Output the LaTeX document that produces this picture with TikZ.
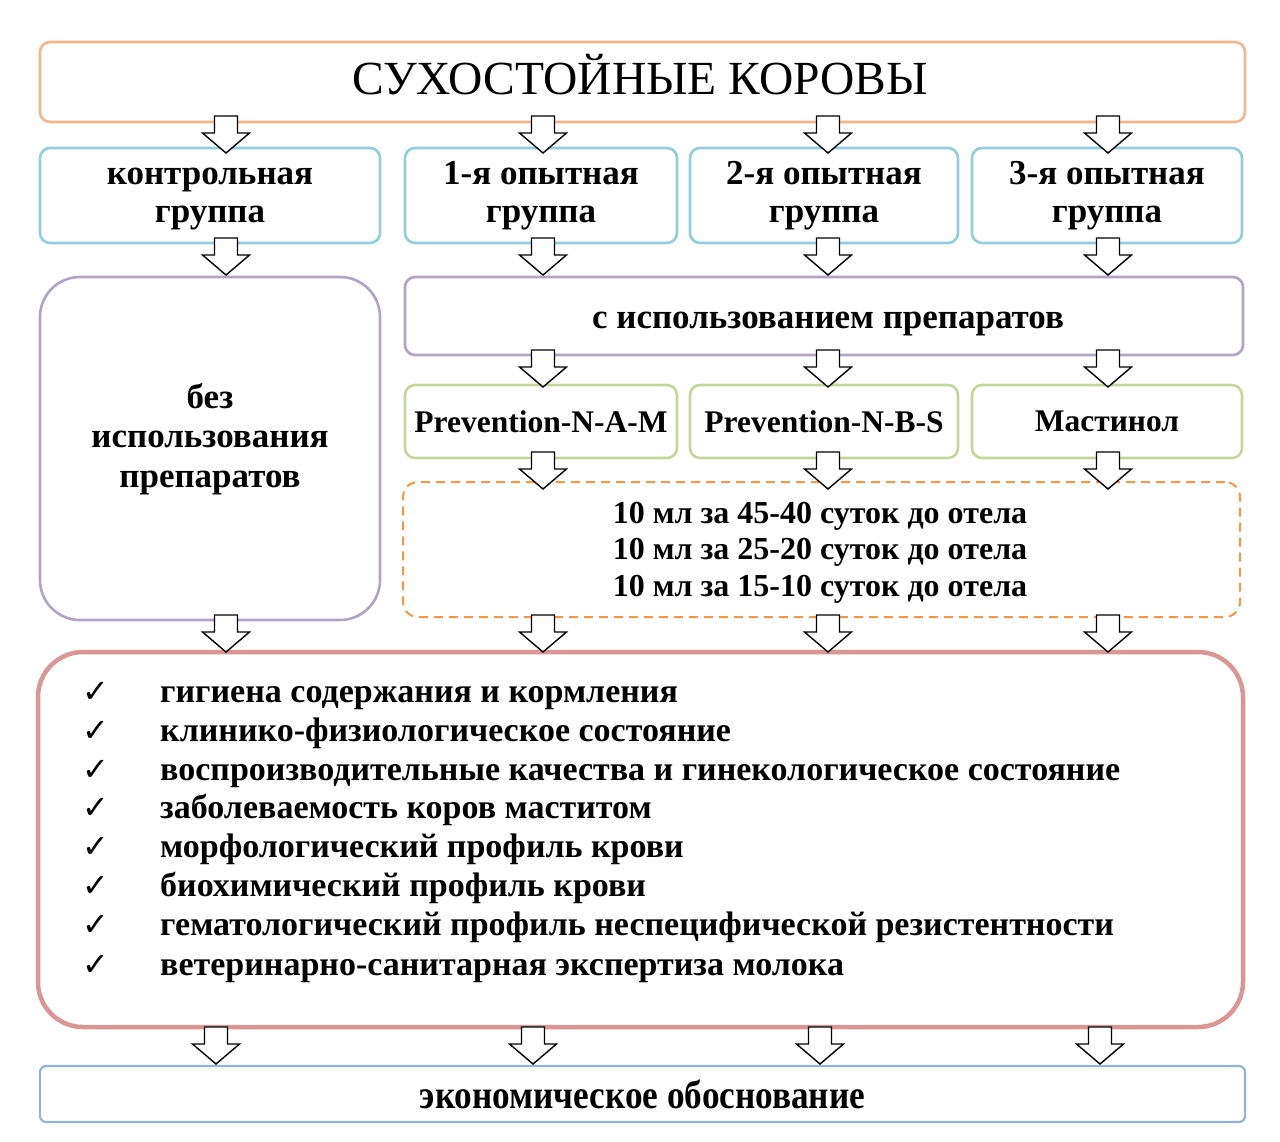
\documentclass[tikz,border=0pt]{standalone}
\usepackage{fontspec}
\usepackage{graphicx}
\setmainfont{Liberation Serif}
\newfontfamily\djv{DejaVu Sans}
\definecolor{cOrange}{HTML}{F5B58B}
\definecolor{cBlue}{HTML}{93CDDD}
\definecolor{cLav}{HTML}{B3A2C7}
\definecolor{cGreen}{HTML}{C3D69B}
\definecolor{cDash}{HTML}{F79646}
\definecolor{cRed}{HTML}{D99694}
\definecolor{cBot}{HTML}{95B3D7}
\tikzset{
  boxbase/.style={draw, line width=2.6pt, fill=white, inner sep=0pt, align=center},
  lbl/.style={font=\bfseries\fontsize{35}{38}\selectfont},
  lblb/.style={font=\bfseries\fontsize{35}{39.5}\selectfont},
  drug/.style={font=\bfseries\fontsize{31.5}{36}\selectfont},
  dosel/.style={anchor=mid, inner sep=0pt, font=\bfseries\fontsize{32}{36}\selectfont},
  listitem/.style={anchor=mid west, inner sep=0pt, font=\bfseries\fontsize{34}{39}\selectfont},
  tick/.style={anchor=mid, inner sep=0pt, font=\djv\fontsize{32}{32}\selectfont},
  barrow/.pic={\draw[fill=white, line width=1.4pt, line join=miter]
     (-11.5,0) -- (11.5,0) -- (11.5,17) -- (23.5,17) -- (0,37) -- (-23.5,17) -- (-11.5,17) -- cycle;}
}
\begin{document}
\begin{tikzpicture}[x=1pt,y=-1pt]
\useasboundingbox (0,0) rectangle (1280,1141);
% title
\node[boxbase, draw=cOrange, rounded corners=10pt, minimum width=1205pt, minimum height=80pt] (title) at (642.5,82) {};
\node[inner sep=0pt, anchor=mid, font=\fontsize{47.5}{48}\selectfont] (titletxt) at (640,92) {СУХОСТОЙНЫЕ КОРОВЫ};
% groups
\node[boxbase, lbl, draw=cBlue, rounded corners=10pt, minimum width=340pt, minimum height=95pt] (g0) at (210,195.5) {\raisebox{-3pt}{\begin{tabular}{@{}c@{}}контрольная\\группа\end{tabular}}};
\node[boxbase, lbl, draw=cBlue, rounded corners=10pt, minimum width=272pt, minimum height=95pt] (g1) at (541,195.5) {1-я опытная\\группа};
\node[boxbase, lbl, draw=cBlue, rounded corners=10pt, minimum width=268pt, minimum height=95pt] (g2) at (824,195.5) {2-я опытная\\группа};
\node[boxbase, lbl, draw=cBlue, rounded corners=10pt, minimum width=270pt, minimum height=95pt] (g3) at (1107,195.5) {3-я опытная\\группа};
% left tall
\node[boxbase, draw=cLav, rounded corners=40pt, minimum width=340pt, minimum height=343pt] (none) at (210,448.5) {};
\node[lblb, align=center, inner sep=0pt] (nonetxt) at (210,439) {без\\использования\\препаратов};
% with preparations
\node[boxbase, draw=cLav, rounded corners=10pt, minimum width=838pt, minimum height=78pt] (with) at (824,316) {};
\node[lbl, inner sep=0pt, anchor=mid] (withtxt) at (828,326) {с использованием препаратов};
% drugs
\node[boxbase, drug, draw=cGreen, rounded corners=10pt, minimum width=272pt, minimum height=73pt] (d1) at (541,421.5) {Prevention-N-A-M};
\node[boxbase, drug, draw=cGreen, rounded corners=10pt, minimum width=268pt, minimum height=73pt] (d2) at (824,421.5) {Prevention-N-B-S};
\node[boxbase, drug, draw=cGreen, rounded corners=10pt, minimum width=270pt, minimum height=73pt] (d3) at (1107,421.5) {Мастинол};
% dosage dashed
\node[boxbase, draw=cDash, line width=2pt, dash pattern=on 9pt off 6pt, rounded corners=15pt, minimum width=837pt, minimum height=135pt] (dose) at (821.5,549.5) {};
\node[dosel] (dl1) at (820,521) {10 мл за 45-40 суток до отела};
\node[dosel] (dl2) at (820,557) {10 мл за 25-20 суток до отела};
\node[dosel] (dl3) at (820,594) {10 мл за 15-10 суток до отела};
% results box
\node[boxbase, draw=cRed, line width=4.5pt, rounded corners=45pt, minimum width=1205pt, minimum height=375pt] (res) at (640.5,839.5) {};
\foreach \yy/\txt [count=\i] in {
  692/гигиена содержания и кормления,
  731/клинико-физиологическое состояние,
  770/воспроизводительные качества и гинекологическое состояние,
  808/заболеваемость коров маститом,
  847/морфологический профиль крови,
  886/биохимический профиль крови,
  925/гематологический профиль неспецифической резистентности,
  965/ветеринарно-санитарная экспертиза молока}{
  \node[tick] (t\i) at (96,\yy+8) {✓};
  \node[listitem] (li\i) at (160,\yy+8) {\txt};
}
% bottom
\node[boxbase, draw=cBot, line width=2.2pt, rounded corners=6pt, minimum width=1205pt, minimum height=56pt,
  font=\bfseries\fontsize{40}{40}\selectfont] (econ) at (642.5,1094) {\scalebox{0.88}[1]{экономическое обоснование}};
% block arrows
\foreach \xx in {226,543,828,1108} {\pic at (\xx,116) {barrow};}
\foreach \xx in {226,543,828,1108} {\pic at (\xx,238) {barrow};}
\foreach \xx in {543,828,1108} {\pic at (\xx,350) {barrow};}
\foreach \xx in {543,828,1108} {\pic at (\xx,452) {barrow};}
\foreach \xx in {226,543,828,1108} {\pic at (\xx,615) {barrow};}
\foreach \xx in {216,533,820,1100} {\pic at (\xx,1027) {barrow};}
\end{tikzpicture}
\end{document}
